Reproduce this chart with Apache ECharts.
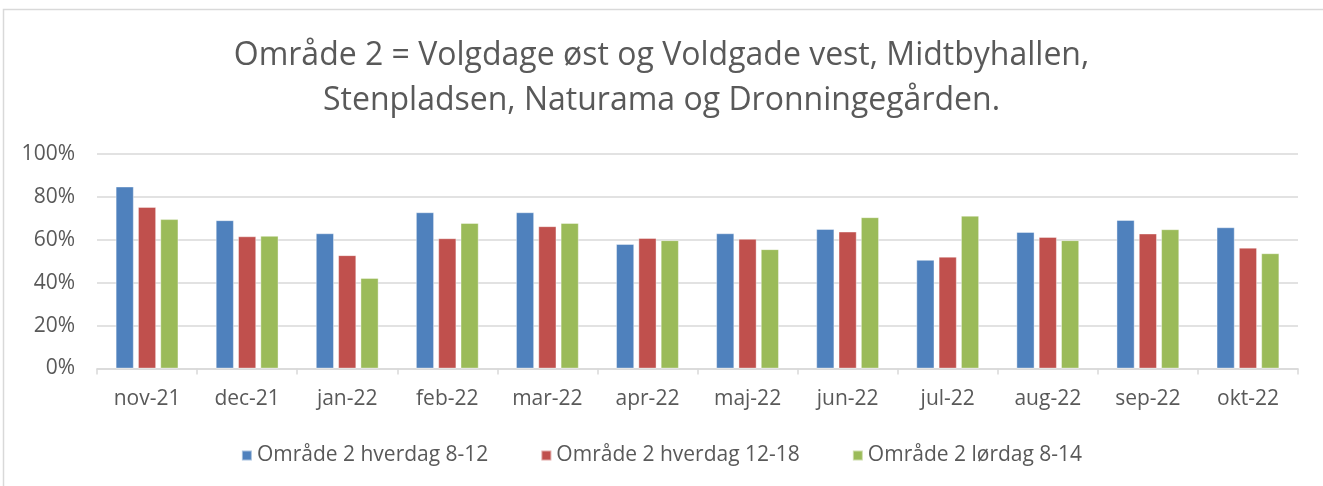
<!DOCTYPE html>
<html><head><meta charset="utf-8">
<script src="https://cdn.jsdelivr.net/npm/echarts@6/dist/echarts.min.js"></script>
<style>html,body{margin:0;padding:0;background:#fff}#c{width:1323px;height:486px}</style>
</head><body><div id="c"></div>
<script>
const categories = ['nov-21','dec-21','jan-22','feb-22','mar-22','apr-22','maj-22','jun-22','jul-22','aug-22','sep-22','okt-22'];
const seriesNames = ['Område 2 hverdag 8-12','Område 2 hverdag 12-18','Område 2 lørdag 8-14'];
const hverdag812 = [84.8,69.1,63.0,72.8,72.8,58.0,63.0,65.0,50.6,63.6,69.2,65.8];
const hverdag1218 = [75.3,61.6,52.8,60.7,66.3,60.8,60.4,63.8,52.1,61.3,62.9,56.3];
const loerdag814 = [69.6,61.8,42.2,67.8,67.8,59.8,55.6,70.5,71.2,59.8,64.9,53.7];
const yTicks = [0,20,40,60,80,100];
const titleText = 'Område 2 = Volgdage øst og Voldgade vest, Midtbyhallen,\nStenpladsen, Naturama og Dronningegården.';
const colors = ['#4F81BD','#C0504D','#9BBB59'];
const font = 'Open Sans';
const chart = echarts.init(document.getElementById('c'), null, {renderer:'canvas'});
const mk = (name, data, i) => ({
  name, type:'bar', data, barWidth:18, barGap:'24%',
  itemStyle:{color:colors[i], borderColor:'rgba(255,255,255,0.5)', borderWidth:0.8},
  emphasis:{disabled:true}
});
chart.setOption({
  animation:false,
  color:colors,
  graphic:[{type:'rect', shape:{x:3.5,y:9.5,width:1330,height:490}, style:{fill:'none', stroke:'#d9d9d9', lineWidth:1.5}, silent:true}],
  title:{text:titleText, left:'center', top:28, textStyle:{fontFamily:font, fontSize:32, fontWeight:'normal', color:'#595959', lineHeight:45}},
  legend:{top:440, left:'center', itemWidth:10, itemHeight:10, itemGap:52, icon:'rect',
    textStyle:{fontFamily:font, fontSize:21, color:'#595959'}, data:seriesNames},
  grid:{left:97, right:25, top:154, bottom:117.5, containLabel:false},
  xAxis:{type:'category', data:categories,
    axisLine:{lineStyle:{color:'#d9d9d9', width:1.5}},
    axisTick:{show:true, alignWithLabel:false, length:6, lineStyle:{color:'#d9d9d9', width:1.5}},
    axisLabel:{fontFamily:font, fontSize:21, color:'#595959', margin:20}},
  yAxis:{type:'value', min:0, max:100, interval:20,
    axisLine:{show:false}, axisTick:{show:false},
    splitLine:{lineStyle:{color:'#d9d9d9', width:1.5}},
    axisLabel:{fontFamily:font, fontSize:21, color:'#595959', margin:22, formatter: v => yTicks.includes(v) ? v + '%' : ''}},
  series:[mk(seriesNames[0],hverdag812,0), mk(seriesNames[1],hverdag1218,1), mk(seriesNames[2],loerdag814,2)]
});
</script></body></html>
